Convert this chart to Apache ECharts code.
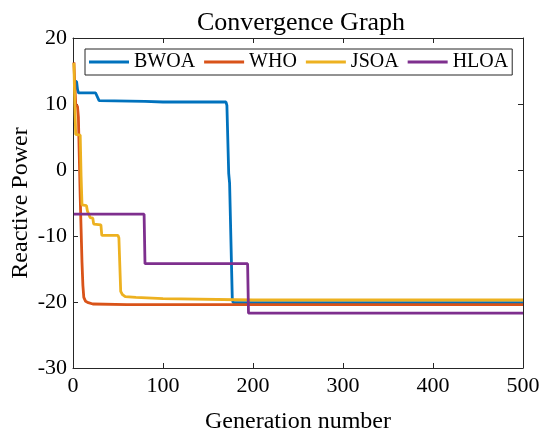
<!DOCTYPE html>
<html>
<head>
<meta charset="utf-8">
<script src="https://cdn.jsdelivr.net/npm/echarts@6/dist/echarts.min.js"></script>
<style>html,body{margin:0;padding:0;background:#fff}#c{width:547px;height:434px}</style>
</head>
<body>
<div id="c"></div>
<script>
// ---- data ----
const seriesNames = ['BWOA', 'WHO', 'JSOA', 'HLOA'];
const seriesColors = ['#0072BD', '#D95319', '#EDB120', '#7E2F8E'];

const bwoaGen = [1, 4, 5, 6, 25, 29, 80, 100, 170, 171, 173, 174, 177, 178, 500];
const bwoaVal = [13.5, 13.4, 12.2, 11.7, 11.7, 10.5, 10.4, 10.3, 10.3, 9.8, -0.5, -2, -19.6, -20.1, -20.1];

const whoGen = [1, 2, 3, 5, 6, 7, 8, 9, 10, 11, 12, 14, 17, 22, 60, 500];
const whoVal = [16.3, 13, 10, 9.6, 8, 2, -4, -9, -14, -17.5, -19.3, -19.9, -20.1, -20.3, -20.4, -20.4];

const jsoaGen = [1, 2, 3, 8, 9, 10, 15, 16, 18, 19, 22, 23, 31, 32, 50, 51, 53, 55, 58, 70, 100, 200, 500];
const jsoaVal = [16.2, 10, 5.4, 5.3, -1, -5.3, -5.4, -6.2, -6.3, -7.2, -7.3, -8.2, -8.3, -9.9, -9.9, -10.3, -18.4, -18.9, -19.2, -19.3, -19.5, -19.7, -19.7];

const hloaGen = [1, 79, 80, 194, 195, 500];
const hloaVal = [-6.7, -6.7, -14.2, -14.2, -21.7, -21.7];

const xTicks = [0, 100, 200, 300, 400, 500];
const yTicks = [-30, -20, -10, 0, 10, 20];

const gens = [bwoaGen, whoGen, jsoaGen, hloaGen];
const vals = [bwoaVal, whoVal, jsoaVal, hloaVal];

const FONT = 'Liberation Serif';
const AX = '#262626';

const chart = echarts.init(document.getElementById('c'), null, {renderer: 'canvas'});

const series = seriesNames.map((n, i) => ({
  name: n,
  type: 'line',
  xAxisIndex: 0,
  yAxisIndex: 0,
  showSymbol: false,
  symbol: 'none',
  data: gens[i].map((g, k) => [g, vals[i][k]]),
  lineStyle: {color: seriesColors[i], width: 2.8},
  itemStyle: {color: seriesColors[i]},
  z: 2 + i
}));

const tickStyle = {show: true, inside: true, length: 5, lineStyle: {color: AX}};
const baseAxis = {
  axisLine: {show: true, onZero: false, lineStyle: {color: AX, width: 1}},
  axisTick: tickStyle,
  splitLine: {show: false}
};

chart.setOption({
  animation: false,
  backgroundColor: '#fff',
  title: {
    text: 'Convergence Graph',
    left: 296, top: 5, textAlign: 'center',
    textStyle: {fontFamily: FONT, fontWeight: 'normal', fontSize: 26, color: '#000'}
  },
  legend: {
    data: seriesNames,
    left: 85, top: 49,
    orient: 'horizontal',
    icon: 'rect',
    itemWidth: 40, itemHeight: 3,
    itemGap: 9,
    padding: [3, 4, 3, 4],
    borderColor: AX, borderWidth: 1,
    backgroundColor: '#fff',
    textStyle: {fontFamily: FONT, fontSize: 20, color: '#000'}
  },
  grid: {left: 73, right: 24, top: 38, bottom: 66, containLabel: false, outerBoundsMode: 'none'},
  xAxis: [
    Object.assign({}, baseAxis, {
      type: 'value', position: 'bottom', min: 0, max: 500, interval: 100,
      name: 'Generation number', nameLocation: 'middle', nameGap: 42, nameMoveOverlap: false,
      nameTextStyle: {fontFamily: FONT, fontSize: 24, color: '#000'},
      axisLabel: {fontFamily: FONT, fontSize: 22, color: '#000', margin: 7,
        customValues: xTicks},
      axisTick: Object.assign({}, tickStyle, {customValues: xTicks})
    }),
    Object.assign({}, baseAxis, {
      type: 'value', position: 'top', min: 0, max: 500, interval: 100,
      axisLabel: {show: false}
    })
  ],
  yAxis: [
    Object.assign({}, baseAxis, {
      type: 'value', position: 'left', min: -30, max: 20, interval: 10,
      name: 'Reactive Power', nameLocation: 'middle', nameGap: 40, nameMoveOverlap: false,
      nameTextStyle: {fontFamily: FONT, fontSize: 24, color: '#000'},
      axisLabel: {fontFamily: FONT, fontSize: 22, color: '#000', margin: 6,
        customValues: yTicks},
      axisTick: Object.assign({}, tickStyle, {customValues: yTicks})
    }),
    Object.assign({}, baseAxis, {
      type: 'value', position: 'right', min: -30, max: 20, interval: 10,
      axisLabel: {show: false}
    })
  ],
  series: series
});
</script>
</body>
</html>
